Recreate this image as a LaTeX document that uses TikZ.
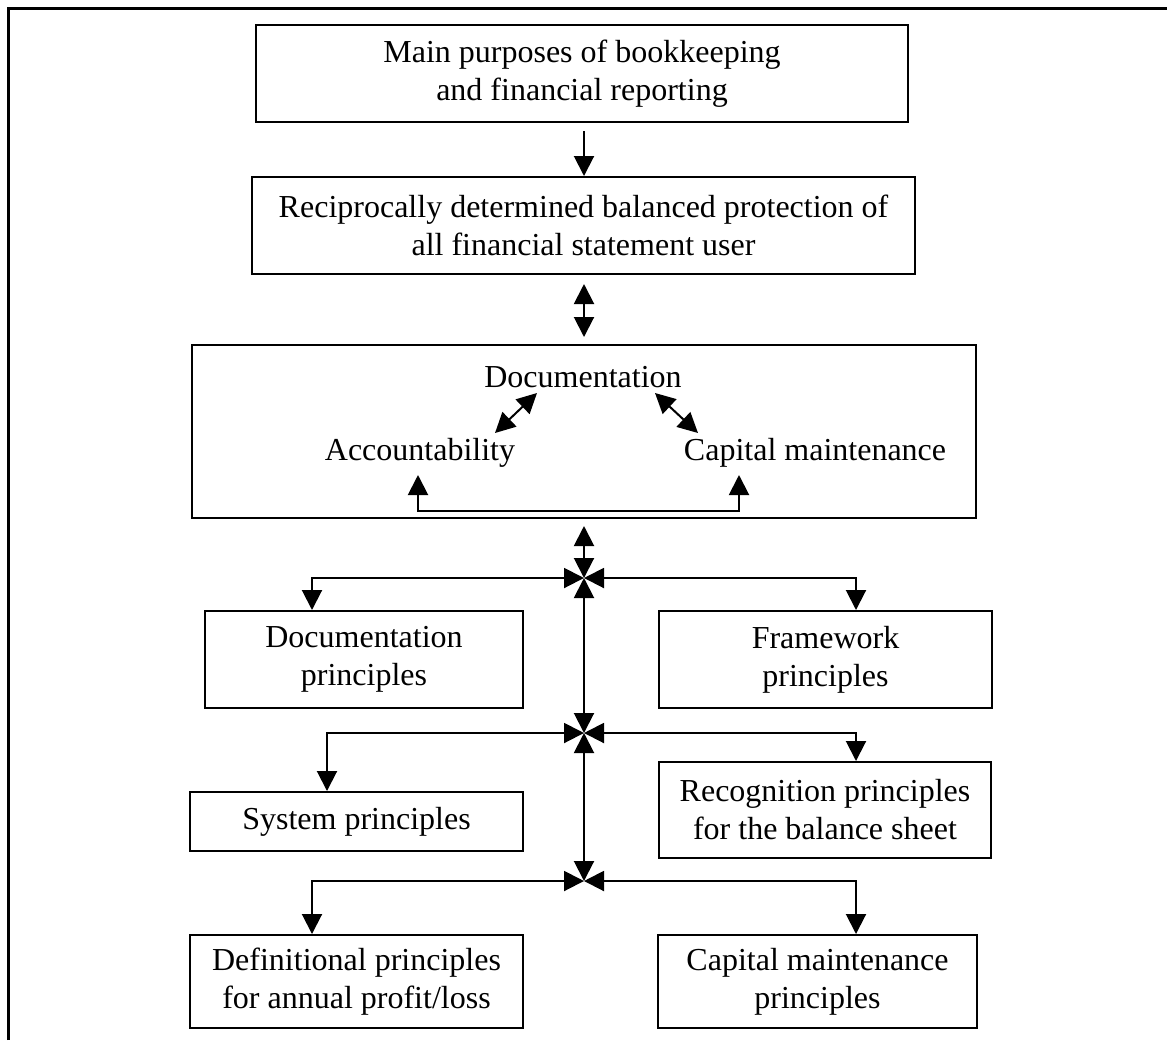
\documentclass[tikz,border=0pt]{standalone}
\usepackage{fontspec}
\setmainfont{Liberation Serif}
\usetikzlibrary{arrows.meta,calc}
\begin{document}
\begin{tikzpicture}[x=0.5pt,y=-0.5pt,
  txt/.style={font=\fontsize{16}{19}\selectfont},
  box/.style={txt, draw, line width=1pt, align=center, inner sep=0pt},
  lbl/.style={txt, inner sep=0pt},
  tip/.tip={Triangle[length=10pt,width=10pt]},
  conn/.style={line width=1pt, -tip},
  dconn/.style={line width=1pt, tip-tip}]
\useasboundingbox (0,0) rectangle (1167,1040);
\draw[line width=1.5pt] (8,1040) -- (8,8) -- (1167,8);

\node[box, minimum width=326pt, minimum height=48.5pt] (A) at (582,73.5)
  {Main purposes of bookkeeping\\and financial reporting};
\node[box, minimum width=331.5pt, minimum height=48.5pt] (B) at (583.5,225.5)
  {Reciprocally determined balanced protection of\\all financial statement user};
\node[draw, line width=1pt, minimum width=392pt, minimum height=86.5pt] (C) at (584,431.5) {};
\node[lbl] (doc) at (583,377) {Documentation};
\node[lbl] (acc) at (420,453) {Accountability};
\node[lbl] (cap) at (815,453) {Capital maintenance};

\node[box, minimum width=159pt, minimum height=48.5pt] (D) at (364,659.5)
  {Documentation\\principles};
\node[box, minimum width=166.5pt, minimum height=48.5pt] (E) at (825.5,659.5)
  {Framework\\principles};
\node[box, minimum width=166.5pt, minimum height=29.5pt] (F) at (356.5,821.5)
  {System principles};
\node[box, minimum width=166pt, minimum height=48pt] (G) at (825,810)
  {Recognition principles\\for the balance sheet};
\node[box, minimum width=166.5pt, minimum height=46.5pt] (H) at (356.5,981.5)
  {Definitional principles\\for annual profit/loss};
\node[box, minimum width=159.5pt, minimum height=46.5pt] (I) at (817.5,981.5)
  {Capital maintenance\\principles};

\coordinate (J1) at (584,578);
\coordinate (J2) at (584,733);
\coordinate (J3) at (584,881);

\draw[conn, shorten <=4pt] (A.south -| J1) -- (B.north -| J1);
\draw[dconn, shorten <=4.5pt, shorten >=3.5pt] (B.south -| J1) -- (C.north -| J1);
\draw[dconn, shorten <=3.5pt] (C.south -| J1) -- (J1);
\draw[dconn] (J1) -- (J2);
\draw[dconn] (J2) -- (J3);

\draw[dconn] ([xshift=-26pt]D.north) |- (J1);
\draw[dconn] ([xshift=15.25pt]E.north) |- (J1);
\draw[dconn] ([xshift=-14.75pt]F.north) |- (J2);
\draw[dconn] ([xshift=15.5pt]G.north) |- (J2);
\draw[dconn] ([xshift=-22.25pt]H.north) |- (J3);
\draw[dconn] ([xshift=19.25pt]I.north) |- (J3);

\draw[dconn] ([shift={(75,-20)}]acc.center) -- ([shift={(-46,16)}]doc.center);
\draw[dconn] ([shift={(72,16)}]doc.center) -- ([shift={(-117,-20)}]cap.center);
\draw[dconn] ([shift={(-2,22)}]acc.center) -- ++(0,36) -| ([shift={(-76,22)}]cap.center);
\end{tikzpicture}
\end{document}
